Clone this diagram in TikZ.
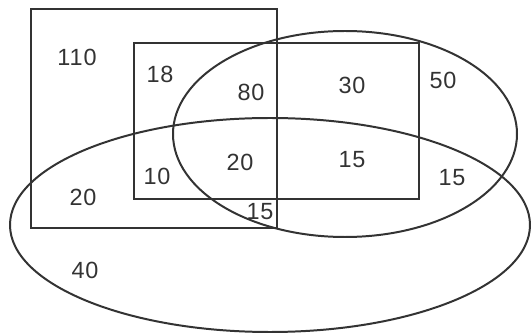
\documentclass[tikz,border=0pt]{standalone}
\usepackage{fontspec}
\setmainfont{Liberation Sans}[LetterSpace=4]
\definecolor{inkgray}{HTML}{333333}

\begin{document}
\begin{tikzpicture}[x=0.03cm, y=0.03cm, inkgray,
  num/.style={font=\fontsize{20}{23}\selectfont, text=inkgray, inner sep=0pt}]
  \useasboundingbox (0,0) rectangle (531,334);
  % Rectangles
  \draw[line width=2.5pt] (31,325) rectangle (277,106);
  \draw[line width=2.5pt] (134,291) rectangle (419,135);
  % Ellipses
  \draw[line width=1.7pt] (345,200) ellipse [x radius=172, y radius=103];
  \draw[line width=1.7pt] (270,109) ellipse [x radius=260, y radius=107];
  % Effectifs
  \node[num] (n110) at (77,277) {110};
  \node[num] (n18)  at (160,260) {18};
  \node[num] (n80)  at (251,242) {80};
  \node[num] (n30)  at (352,249) {30};
  \node[num] (n50)  at (443,254) {50};
  \node[num] (n20a) at (240,172) {20};
  \node[num] (n15a) at (352,174) {15};
  \node[num] (n10)  at (157,158) {10};
  \node[num] (n20b) at (83,137) {20};
  \node[num] (n15b) at (260,122) {15};
  \node[num] (n15c) at (452,156) {15};
  \node[num] (n40)  at (85,64) {40};
\end{tikzpicture}
\end{document}
